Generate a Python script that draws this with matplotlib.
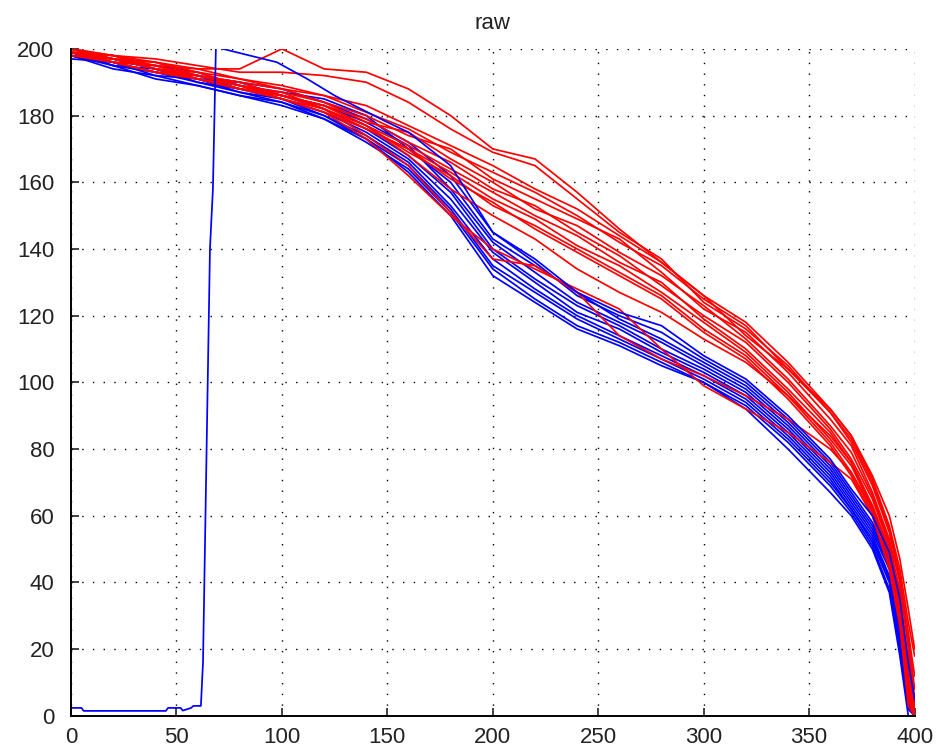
import numpy as np
import matplotlib.pyplot as plt

# common sample positions for the bundled curves
xs = [0, 20, 40, 60, 80, 100, 120, 140, 160, 180, 200, 220, 240, 260, 280,
      300, 320, 340, 360, 370, 380, 388, 393, 397, 400]

# red group
red_curves = [
    [199, 198, 196, 194, 194, 200, 194, 193, 188, 180, 170, 167, 157, 146, 136, 126, 114, 104, 92, 84, 71, 57, 44, 28, 18],
    [200, 198, 197, 195, 193, 193, 192, 190, 184, 176, 169, 165, 155, 145, 137, 124, 116, 105, 91, 83, 70, 56, 42, 25, 12],
    [199, 197, 196, 193, 191, 189, 186, 183, 177, 171, 165, 158, 152, 144, 136, 126, 118, 106, 92, 84, 72, 60, 47, 32, 20],
    [200, 198, 195, 194, 191, 188, 186, 181, 176, 169, 163, 157, 150, 142, 135, 125, 117, 104, 91, 82, 69, 55, 41, 22, 5],
    [198, 197, 196, 192, 190, 188, 184, 180, 174, 170, 161, 155, 149, 143, 133, 122, 115, 103, 89, 81, 67, 53, 40, 20, 2],
    [199, 198, 194, 193, 189, 187, 184, 178, 175, 167, 160, 152, 147, 139, 132, 123, 113, 101, 87, 79, 66, 52, 37, 16, 0],
    [200, 196, 195, 192, 190, 186, 183, 179, 172, 166, 158, 153, 145, 138, 129, 120, 112, 100, 86, 77, 65, 51, 36, 14, 0],
    [198, 197, 194, 191, 188, 187, 182, 177, 171, 164, 157, 150, 144, 136, 130, 119, 110, 98, 85, 76, 63, 49, 33, 10, 0],
    [199, 196, 193, 192, 189, 185, 182, 176, 170, 163, 155, 149, 141, 135, 127, 118, 109, 97, 83, 75, 62, 48, 32, 8, 0],
    [200, 197, 195, 191, 188, 186, 183, 177, 169, 162, 153, 147, 140, 133, 126, 116, 108, 96, 82, 73, 61, 47, 30, 5, 0],
    [198, 196, 193, 191, 189, 185, 181, 176, 170, 161, 154, 146, 139, 132, 125, 115, 107, 95, 81, 72, 60, 45, 28, 3, 0],
    [199, 197, 194, 192, 189, 186, 183, 177, 168, 158, 150, 143, 134, 127, 121, 113, 106, 96, 84, 76, 63, 50, 38, 24, 8],
    [200, 197, 194, 191, 188, 186, 182, 174, 165, 151, 137, 135, 127, 114, 107, 102, 96, 89, 80, 73, 62, 47, 31, 10, 0],
    [199, 196, 193, 191, 188, 185, 181, 173, 162, 150, 140, 134, 128, 122, 110, 99, 92, 85, 76, 71, 60, 44, 27, 6, 0],
]

# blue group
blue_curves = [
    [198, 197, 194, 192, 190, 188, 184, 179, 172, 162, 145, 136, 126, 120, 115, 107, 100, 89, 76, 67, 58, 47, 33, 14, 4],
    [199, 196, 195, 193, 189, 187, 185, 180, 170, 160, 143, 135, 127, 119, 113, 106, 99, 88, 75, 66, 57, 46, 31, 12, 2],
    [200, 197, 194, 191, 190, 186, 183, 178, 171, 158, 142, 133, 124, 118, 112, 105, 98, 87, 74, 65, 56, 45, 30, 10, 0],
    [198, 196, 193, 192, 188, 186, 182, 176, 168, 157, 140, 131, 123, 117, 110, 104, 97, 86, 73, 64, 55, 44, 28, 8, 0],
    [199, 195, 194, 190, 188, 185, 181, 175, 167, 155, 139, 130, 121, 116, 109, 103, 96, 85, 72, 63, 54, 42, 26, 6, 0],
    [197, 196, 192, 191, 187, 185, 180, 174, 166, 153, 137, 128, 120, 114, 108, 102, 95, 84, 71, 62, 53, 41, 24, 4, 0],
    [199, 195, 193, 190, 187, 184, 180, 173, 165, 152, 135, 127, 119, 113, 107, 101, 94, 83, 70, 62, 52, 40, 22, 3, 0],
    [198, 194, 192, 189, 186, 184, 179, 172, 164, 151, 134, 125, 117, 112, 106, 100, 93, 82, 69, 61, 51, 38, 20, 2, 0],
    [198, 195, 191, 189, 186, 183, 179, 173, 163, 150, 132, 124, 116, 111, 105, 100, 92, 80, 67, 60, 50, 37, 18, 0, 0],
]

# the one blue trace that starts near zero and shoots up past the top
odd_x = [0, 5, 6, 45, 46, 52, 53, 57, 58, 61.6, 62.6, 65.9, 67.3, 68.7, 70, 72,
         97.6, 112, 125, 150, 160, 180, 200, 220, 240, 260, 280, 300, 320, 340,
         360, 370, 380, 388, 393, 397, 400]
odd_y = [2.4, 2.4, 1.5, 1.5, 2.4, 2.4, 1.6, 2.4, 3, 3, 16, 140, 158, 200, 204, 200,
         196, 191, 186, 178, 175, 165, 145, 137, 127, 121, 117, 108, 101, 90,
         77, 68, 60, 49, 35, 16, 5]

plt.rcParams['font.family'] = ['Liberation Sans', 'DejaVu Sans']

fig = plt.figure(figsize=(9.4, 7.52), dpi=100)
ax = fig.add_axes([0.0755, 0.048, 0.8975, 0.887])

for ys in blue_curves:
    ax.plot(xs, ys, color='#0000ff', lw=1.25)
for ys in red_curves:
    ax.plot(xs, ys, color='#ff0000', lw=1.25)
ax.plot(odd_x, odd_y, color='#0000ff', lw=1.25)

ax.set_xlim(0, 400)
ax.set_ylim(0, 200)
ax.set_xticks(np.arange(0, 401, 50))
ax.set_yticks(np.arange(0, 201, 20))
ax.grid(True, color='black', linestyle=(0, (1, 6.7)), lw=1.0)
ax.set_axisbelow(True)

ax.spines['top'].set_visible(False)
ax.spines['right'].set_visible(False)
ax.spines['left'].set_linewidth(1.4)
ax.spines['bottom'].set_linewidth(1.4)
ax.tick_params(direction='in', length=6, width=1.2, labelsize=16, colors='#222222')
ax.tick_params(axis='y', pad=12)
ax.tick_params(axis='x', pad=8)

ax.set_title('raw', fontsize=16, pad=14, color='#222222')

fig.savefig('out.png', dpi=100)
